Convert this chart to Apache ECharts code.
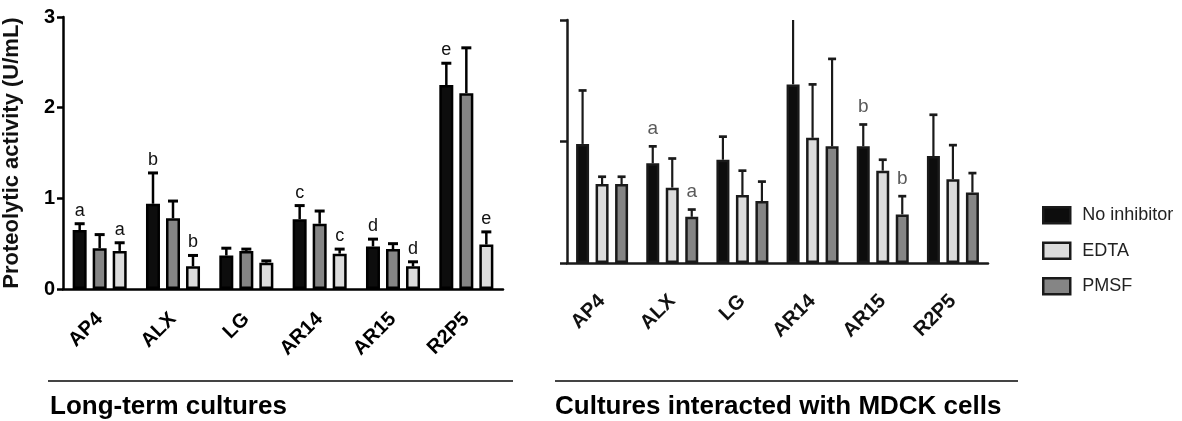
<!DOCTYPE html>
<html>
<head>
<meta charset="utf-8">
<script src="https://cdn.jsdelivr.net/npm/echarts@6/dist/echarts.min.js"></script>
<style>
  html, body { margin: 0; padding: 0; background: #ffffff; }
  #chart { width: 1182px; height: 421px; }
</style>
</head>
<body>
<div id="chart"></div>
<script>
// Strains on both panels
const categories = ['AP4', 'ALX', 'LG', 'AR14', 'AR15', 'R2P5'];
const yTicksLong = [0, 1, 2, 3];

// Long-term cultures (U/mL), mean and SD
const longNoInhibitor    = [0.65, 0.94, 0.37, 0.77, 0.47, 2.25];
const longNoInhibitorErr = [0.07, 0.34, 0.08, 0.15, 0.08, 0.24];
const longPMSF           = [0.45, 0.78, 0.42, 0.72, 0.44, 2.16];
const longPMSFErr        = [0.15, 0.19, 0.02, 0.14, 0.06, 0.50];
const longEDTA           = [0.42, 0.25, 0.29, 0.39, 0.25, 0.49];
const longEDTAErr        = [0.09, 0.12, 0.02, 0.05, 0.05, 0.14];
const longNoInhibitorTag = ['a', 'b', '', 'c', 'd', 'e'];
const longEDTATag        = ['a', 'b', '', 'c', 'd', 'e'];

// Cultures interacted with MDCK cells, mean and SD
const mdckNoInhibitor    = [0.98, 0.82, 0.85, 1.47, 0.96, 0.88];
const mdckNoInhibitorErr = [0.44, 0.14, 0.19, 0.60, 0.18, 0.34];
const mdckEDTA           = [0.65, 0.62, 0.56, 1.03, 0.76, 0.69];
const mdckEDTAErr        = [0.06, 0.24, 0.20, 0.44, 0.09, 0.28];
const mdckPMSF           = [0.65, 0.38, 0.51, 0.96, 0.40, 0.58];
const mdckPMSFErr        = [0.06, 0.06, 0.16, 0.72, 0.15, 0.16];
const mdckNoInhibitorTag = ['', 'a', '', '', 'b', ''];
const mdckPMSFTag        = ['', 'a', '', '', 'b', ''];

const COLORS = { none: '#0d0d0d', edta: '#dcdcdc', pmsf: '#858585' };
const FONT = 'Liberation Sans, Arial, sans-serif';

function barSeries(name, axis, data, color, opts) {
  return {
    type: 'bar', name: name,
    xAxisIndex: axis, yAxisIndex: axis,
    data: data,
    barWidth: opts.barWidth,
    barGap: opts.barGap,
    itemStyle: { color: color, borderColor: opts.border, borderWidth: opts.borderWidth },
    emphasis: { disabled: true },
    z: 2
  };
}

// Upper SD whisker with cap, plus optional significance letter above it
function errorSeries(axis, values, errs, tags, slot, opts) {
  return {
    type: 'custom',
    xAxisIndex: axis, yAxisIndex: axis,
    clip: true,
    z: 3,
    silent: true,
    encode: { x: 0, y: 1 },
    data: values.map((v, i) => [i, v, v + errs[i]]),
    renderItem: function (params, api) {
      const i = api.value(0);
      const base = api.coord([i, api.value(1)]);
      const top = api.coord([i, api.value(2)]);
      const x = base[0] + slot * opts.spacing;
      const children = [
        { type: 'line', shape: { x1: x, y1: base[1], x2: x, y2: top[1] },
          style: { stroke: opts.stroke, lineWidth: opts.lineWidth } },
        { type: 'line', shape: { x1: x - opts.cap / 2, y1: top[1], x2: x + opts.cap / 2, y2: top[1] },
          style: { stroke: opts.stroke, lineWidth: opts.lineWidth + 0.5 } }
      ];
      const tag = tags ? tags[params.dataIndex] : '';
      if (tag) {
        children.push({
          type: 'text',
          style: {
            x: x, y: top[1] - opts.tagGap, text: tag,
            fill: opts.tagColor, font: opts.tagFont,
            align: 'center', verticalAlign: 'bottom'
          }
        });
      }
      return { type: 'group', children: children };
    }
  };
}

const leftBar = { barWidth: 14, barGap: '43%', border: '#000', borderWidth: 2.5 };
const rightBar = { barWidth: 13, barGap: '50%', border: '#1a1a1a', borderWidth: 2.5 };
const leftErr = { spacing: 20, stroke: '#000', lineWidth: 2.5, cap: 10, tagGap: 4,
                  tagColor: '#111', tagFont: '18px ' + FONT };
const rightErr = { spacing: 19.5, stroke: '#1a1a1a', lineWidth: 2.2, cap: 8, tagGap: 8,
                   tagColor: '#5a5a5a', tagFont: '19px ' + FONT };

const chart = echarts.init(document.getElementById('chart'), null, { renderer: 'canvas' });

chart.setOption({
  animation: false,
  backgroundColor: '#ffffff',
  grid: [
    { left: 63, top: 17, width: 440, height: 272 },
    { left: 567, top: 20, width: 421, height: 243 }
  ],
  xAxis: [
    {
      gridIndex: 0, type: 'category', data: categories,
      axisLine: { lineStyle: { color: '#000', width: 2.5 } },
      axisTick: { alignWithLabel: true, length: 6, lineStyle: { color: '#000', width: 2.5 } },
      axisLabel: { rotate: 45, margin: 27, color: '#000', fontFamily: FONT, fontWeight: 'bold', fontSize: 20 }
    },
    {
      gridIndex: 1, type: 'category', data: categories,
      axisLine: { lineStyle: { color: '#1a1a1a', width: 2.5 } },
      axisTick: { alignWithLabel: true, length: 7, lineStyle: { color: '#1a1a1a', width: 2.5 } },
      axisLabel: { rotate: 45, margin: 35, color: '#111', fontFamily: FONT, fontWeight: 'bold', fontSize: 20 }
    }
  ],
  yAxis: [
    {
      gridIndex: 0, type: 'value',
      min: yTicksLong[0], max: yTicksLong[yTicksLong.length - 1], interval: 1,
      name: 'Proteolytic activity (U/mL)',
      nameLocation: 'middle', nameGap: 40,
      nameTextStyle: { color: '#111', fontFamily: FONT, fontWeight: 'bold', fontSize: 22 },
      splitLine: { show: false },
      axisLine: { show: true, lineStyle: { color: '#000', width: 2.5 } },
      axisTick: { show: true, length: 6, lineStyle: { color: '#000', width: 2.5 } },
      axisLabel: { margin: 8, color: '#000', fontFamily: FONT, fontWeight: 'bold', fontSize: 20 }
    },
    {
      gridIndex: 1, type: 'value', min: 0, max: 2, interval: 1,
      splitLine: { show: false },
      axisLine: { show: true, lineStyle: { color: '#1a1a1a', width: 2.5 } },
      axisTick: { show: true, length: 7, lineStyle: { color: '#1a1a1a', width: 2.5 } },
      axisLabel: { show: false }
    }
  ],
  legend: {
    orient: 'vertical',
    left: 1037, top: 201,
    itemWidth: 27, itemHeight: 16, itemGap: 17,
    selectedMode: false,
    textStyle: { color: '#222', fontFamily: FONT, fontSize: 18, padding: [0, 0, 0, 7] },
    data: [
      { name: 'No inhibitor', icon: 'rect', itemStyle: { color: COLORS.none, borderColor: '#1a1a1a', borderWidth: 2.5 } },
      { name: 'EDTA', icon: 'rect', itemStyle: { color: COLORS.edta, borderColor: '#1a1a1a', borderWidth: 2.5 } },
      { name: 'PMSF', icon: 'rect', itemStyle: { color: COLORS.pmsf, borderColor: '#1a1a1a', borderWidth: 2.5 } }
    ]
  },
  graphic: [
    { type: 'line', shape: { x1: 48, y1: 381, x2: 513, y2: 381 }, style: { stroke: '#444', lineWidth: 2 } },
    { type: 'line', shape: { x1: 555, y1: 381, x2: 1018, y2: 381 }, style: { stroke: '#444', lineWidth: 2 } },
    { type: 'text', left: 50, top: 394,
      style: { text: 'Long-term cultures', fill: '#000', font: 'bold 26px ' + FONT } },
    { type: 'text', left: 555, top: 394,
      style: { text: 'Cultures interacted with MDCK cells', fill: '#000', font: 'bold 26px ' + FONT } }
  ],
  series: [
    barSeries('No inhibitor', 0, longNoInhibitor, COLORS.none, leftBar),
    barSeries('PMSF', 0, longPMSF, COLORS.pmsf, leftBar),
    barSeries('EDTA', 0, longEDTA, COLORS.edta, leftBar),
    errorSeries(0, longNoInhibitor, longNoInhibitorErr, longNoInhibitorTag, -1, leftErr),
    errorSeries(0, longPMSF, longPMSFErr, null, 0, leftErr),
    errorSeries(0, longEDTA, longEDTAErr, longEDTATag, 1, leftErr),

    barSeries('No inhibitor', 1, mdckNoInhibitor, COLORS.none, rightBar),
    barSeries('EDTA', 1, mdckEDTA, COLORS.edta, rightBar),
    barSeries('PMSF', 1, mdckPMSF, COLORS.pmsf, rightBar),
    errorSeries(1, mdckNoInhibitor, mdckNoInhibitorErr, mdckNoInhibitorTag, -1, rightErr),
    errorSeries(1, mdckEDTA, mdckEDTAErr, null, 0, rightErr),
    errorSeries(1, mdckPMSF, mdckPMSFErr, mdckPMSFTag, 1, rightErr)
  ]
});
</script>
</body>
</html>
